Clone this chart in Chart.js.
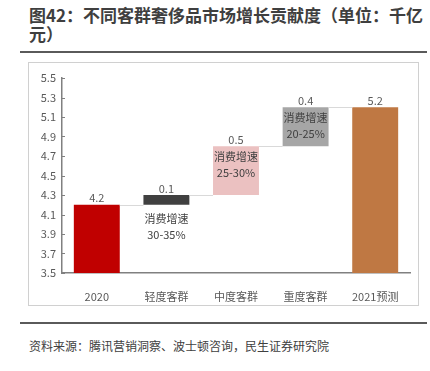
<!DOCTYPE html>
<html>
<head>
<meta charset="utf-8">
<script src="https://cdn.jsdelivr.net/npm/chart.js@4"></script>
<style>
  body { margin: 0; width: 430px; height: 371px; background: #fff; position: relative; overflow: hidden;
         font-family: "Noto Sans CJK SC", "Noto Sans", sans-serif; }
  #title { position: absolute; left: 29px; top: 5px; font-size: 17px; font-weight: bold; color: #3f3f3f; line-height: 19px; }
  #topline { position: absolute; left: 20px; top: 51px; width: 407px; height: 2px; background: #5a5a5a; }
  #box { position: absolute; left: 28px; top: 62px; width: 389px; height: 242px; border: 1px solid #d0d0d0; }
  #bottomline { position: absolute; left: 20px; top: 322px; width: 407px; height: 2px; background: #5a5a5a; }
  #source { position: absolute; left: 29px; top: 337px; font-size: 12px; color: #404040; }
</style>
</head>
<body>
<div id="title">图42：不同客群奢侈品市场增长贡献度（单位：千亿<br>元）</div>
<div id="topline"></div>
<div id="box"><canvas id="myChart" width="389" height="242"></canvas></div>
<div id="bottomline"></div>
<div id="source">资料来源：腾讯营销洞察、波士顿咨询，民生证券研究院</div>
<script>
const labels = ['2020', '轻度客群', '中度客群', '重度客群', '2021预测'];
const values = [4.2, 0.1, 0.5, 0.4, 5.2];
const isTotal = [true, false, false, false, true];
const growth = ['', '30-35%', '25-30%', '20-25%', ''];
const colors = ['#c00000', '#404040', '#ebc1c1', '#a6a6a6', '#bf7843'];
const yMin = 3.5, yMax = 5.5;

// floating bars: totals start from axis, steps stack on the running sum
let running = 0;
const ranges = values.map((v, i) => {
    if (isTotal[i]) { running = v; return [yMin, v]; }
    const r = [running, running + v];
    running += v;
    return r;
});

const waterfallPlugin = {
    id: 'waterfall',
    afterDatasetsDraw(chart) {
        const ctx = chart.ctx;
        const meta = chart.getDatasetMeta(0);
        const y = chart.scales.y;
        ctx.save();
        // connectors
        ctx.strokeStyle = '#d9d9d9';
        ctx.lineWidth = 1;
        for (let i = 0; i < meta.data.length - 1; i++) {
            const a = meta.data[i], b = meta.data[i + 1];
            const yy = Math.round(y.getPixelForValue(ranges[i][1])) + 0.5;
            ctx.beginPath();
            ctx.moveTo(a.x + a.width / 2, yy);
            ctx.lineTo(b.x - b.width / 2, yy);
            ctx.stroke();
        }
        // y ticks inward
        ctx.strokeStyle = '#808080';
        y.ticks.forEach(t => {
            const yy = Math.round(y.getPixelForValue(t.value)) + 0.5;
            ctx.beginPath();
            ctx.moveTo(y.right, yy);
            ctx.lineTo(y.right + 3, yy);
            ctx.stroke();
        });
        // value labels
        ctx.textAlign = 'center';
        ctx.textBaseline = 'bottom';
        ctx.font = '11px "Noto Sans CJK SC"';
        ctx.fillStyle = '#595959';
        meta.data.forEach((bar, i) => {
            const top = y.getPixelForValue(ranges[i][1]);
            ctx.fillText(values[i].toFixed(1), bar.x, top - 1);
        });
        // growth notes
        ctx.fillStyle = '#404040';
        ctx.textBaseline = 'middle';
        meta.data.forEach((bar, i) => {
            if (!growth[i]) return;
            let y0;
            if (i === 1) y0 = y.getPixelForValue(ranges[i][0]) + 14;
            else y0 = y.getPixelForValue(ranges[i][1]) + 11;
            ctx.fillText('消费增速', bar.x, y0);
            ctx.fillText(growth[i], bar.x, y0 + 16);
        });
        ctx.restore();
    }
};

new Chart(document.getElementById('myChart'), {
    type: 'bar',
    data: {
        labels: labels,
        datasets: [{
            data: ranges,
            backgroundColor: colors,
            borderWidth: 0,
            borderSkipped: false,
            barPercentage: 0.66,
            categoryPercentage: 1
        }]
    },
    options: {
        responsive: false,
        animation: false,
        layout: { padding: { left: 0, right: 8, top: 15, bottom: 0 } },
        plugins: { legend: { display: false }, tooltip: { enabled: false } },
        scales: {
            y: {
                min: yMin, max: yMax,
                afterFit: s => { s.width = 33; },
                ticks: {
                    stepSize: 0.2,
                    color: '#595959',
                    font: { size: 11, family: '"Noto Sans CJK SC"' },
                    padding: 6,
                    callback: v => v.toFixed(1)
                },
                grid: { drawOnChartArea: false, drawTicks: false },
                border: { color: '#808080', width: 1.5 }
            },
            x: {
                afterFit: s => { s.height = 32; },
                ticks: {
                    color: '#595959',
                    font: { size: 11, family: '"Noto Sans CJK SC"' },
                    padding: 9
                },
                grid: { display: false },
                border: { color: '#808080', width: 1.5 }
            }
        }
    },
    plugins: [waterfallPlugin]
});
</script>
</body>
</html>
